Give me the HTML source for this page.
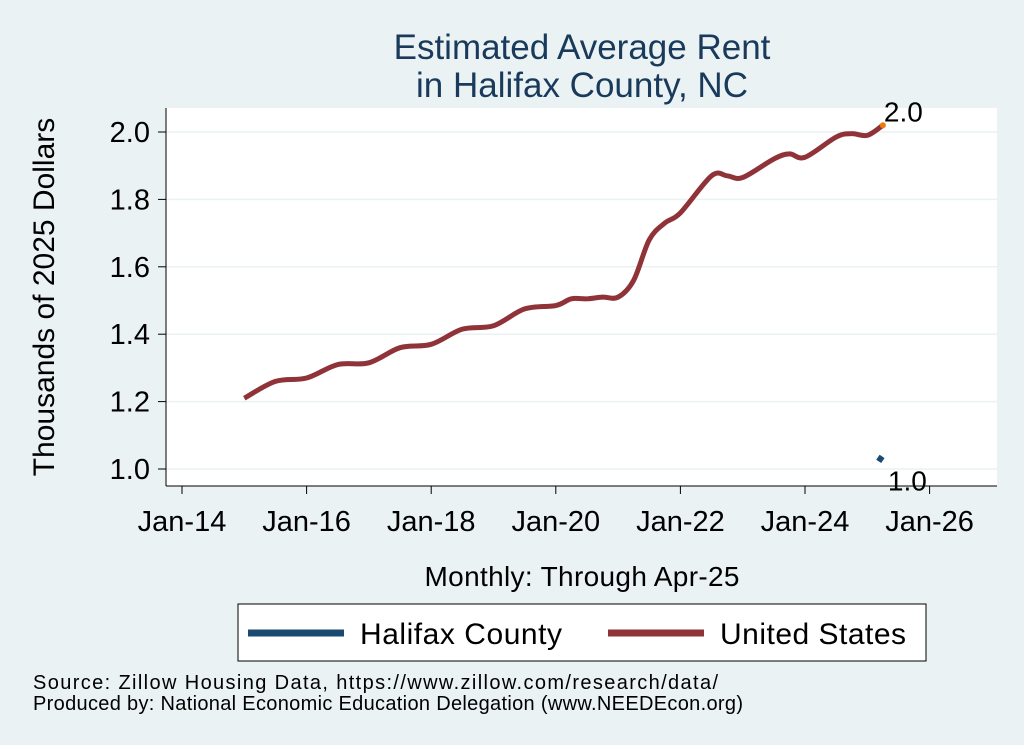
<!DOCTYPE html>
<html><head><meta charset="utf-8"><style>
body{margin:0;background:#eaf2f3;}
svg{display:block;font-family:"Liberation Sans",Arial,sans-serif;}
</style></head><body>
<svg id="chart" width="1024" height="745" viewBox="0 0 1024 745">
<rect width="1024" height="745" fill="#eaf2f3"/>
<text x="582" y="59" font-size="35" fill="#1a3a5c" text-anchor="middle">Estimated Average Rent</text>
<text x="582" y="97" font-size="35" fill="#1a3a5c" text-anchor="middle">in Halifax County, NC</text>
<rect x="166" y="108" width="831" height="378" fill="#fff"/>
<g id="grid"></g>
<g id="axes"></g>
<g id="series"></g>
<text x="54" y="297" font-size="30" fill="#000" text-anchor="middle" transform="rotate(-90 54 297)">Thousands of 2025 Dollars</text>
<text x="582" y="586" font-size="28" fill="#000" text-anchor="middle" textLength="315">Monthly: Through Apr-25</text>
<g>
<rect x="238" y="604" width="688" height="57" fill="#fff" stroke="#000" stroke-width="1"/>
<g>
<line x1="248" y1="633" x2="344" y2="633" stroke="#1a4a72" stroke-width="7"/>
<text x="360" y="644" font-size="30" fill="#000" textLength="202">Halifax County</text></g>
<g>
<line x1="608" y1="633" x2="704" y2="633" stroke="#8f3339" stroke-width="7"/>
<text x="720" y="644" font-size="30" fill="#000" textLength="186">United States</text></g>
</g>
<text x="33" y="689" font-size="20" fill="#000" textLength="685">Source: Zillow Housing Data, https://www.zillow.com/research/data/</text>
<text x="33" y="710" font-size="20" fill="#000" textLength="710">Produced by: National Economic Education Delegation (www.NEEDEcon.org)</text>
</svg>
<script>
const usYears=[2015,2015.5,2016,2016.5,2017,2017.5,2018,2018.5,2019,2019.5,2020,2020.25,2020.5,2020.75,2021,2021.25,2021.5,2021.75,2022,2022.5,2022.75,2023,2023.5,2023.75,2024,2024.5,2024.75,2025,2025.25];
const usValues=[1.21,1.26,1.27,1.31,1.315,1.36,1.37,1.415,1.425,1.475,1.485,1.505,1.505,1.51,1.51,1.56,1.68,1.73,1.76,1.87,1.87,1.865,1.92,1.935,1.925,1.985,1.995,1.99,2.02];
const hxYears=[2025.17,2025.25];
const hxValues=[1.035,1.025];
const yTicks=[1.0,1.2,1.4,1.6,1.8,2.0];
const xTickYears=[2014,2016,2018,2020,2022,2024,2026];
const xTickLabels=["Jan-14","Jan-16","Jan-18","Jan-20","Jan-22","Jan-24","Jan-26"];
const NS="http://www.w3.org/2000/svg";
const X=t=>182+(t-2014)*62.3;
const Y=v=>469-(v-1.0)*337;
function mk(tag,attrs,parent){const e=document.createElementNS(NS,tag);for(const k in attrs)e.setAttribute(k,attrs[k]);parent.appendChild(e);return e;}
const grid=document.getElementById('grid'),axes=document.getElementById('axes'),ser=document.getElementById('series');
yTicks.forEach(v=>{
 const g=mk('line',{x1:166,x2:997,y1:Y(v),y2:Y(v),stroke:'#eaf2f3','stroke-width':1.5},grid);
 
 
 mk('line',{x1:158,x2:166,y1:Y(v),y2:Y(v),stroke:'#000','stroke-width':1},axes);
 const t=mk('text',{x:150,y:Y(v)+10,'font-size':29,'text-anchor':'end',fill:'#000'},axes);
 t.textContent=v.toFixed(1);
 
 
});
mk('line',{x1:166,x2:166,y1:108,y2:486,stroke:'#000','stroke-width':1},axes);
mk('line',{x1:166,x2:997,y1:486,y2:486,stroke:'#000','stroke-width':1},axes);
xTickYears.forEach((yr,i)=>{
 mk('line',{x1:X(yr),x2:X(yr),y1:486,y2:494,stroke:'#000','stroke-width':1},axes);
 const t=mk('text',{x:X(yr),y:531,'font-size':29,'text-anchor':'middle',fill:'#000'},axes);
 t.textContent=xTickLabels[i];
 
 
});
function smooth(xs,vs){
 const p=xs.map((x,i)=>[X(x),Y(vs[i])]);
 let d='M'+p[0][0]+','+p[0][1];
 for(let i=0;i<p.length-1;i++){
  const p0=p[i-1]||p[i],p1=p[i],p2=p[i+1],p3=p[i+2]||p2;
  const c1=[p1[0]+(p2[0]-p0[0])/6,p1[1]+(p2[1]-p0[1])/6];
  const c2=[p2[0]-(p3[0]-p1[0])/6,p2[1]-(p3[1]-p1[1])/6];
  d+=' C'+c1+' '+c2+' '+p2;
 }
 return d;
}
const us=mk('path',{d:smooth(usYears,usValues),fill:'none',stroke:'#8f3339','stroke-width':5,'stroke-linecap':'butt'},ser);


const hx=mk('path',{d:smooth(hxYears,hxValues),fill:'none',stroke:'#1a4a72','stroke-width':6},ser);


const ul=usYears.length-1;
const dot=mk('circle',{cx:X(usYears[ul]),cy:Y(usValues[ul]),r:3,fill:'#e87d0d'},ser);


const l1=mk('text',{x:X(usYears[ul])+1,y:Y(usValues[ul])-4,'font-size':28,fill:'#000'},ser);
l1.textContent=usValues[ul].toFixed(1);


const hl=hxYears.length-1;
const l2=mk('text',{x:X(hxYears[hl])+5,y:Y(hxValues[hl])+30,'font-size':28,fill:'#000'},ser);
l2.textContent=hxValues[hl].toFixed(1);


</script>
</body></html>
